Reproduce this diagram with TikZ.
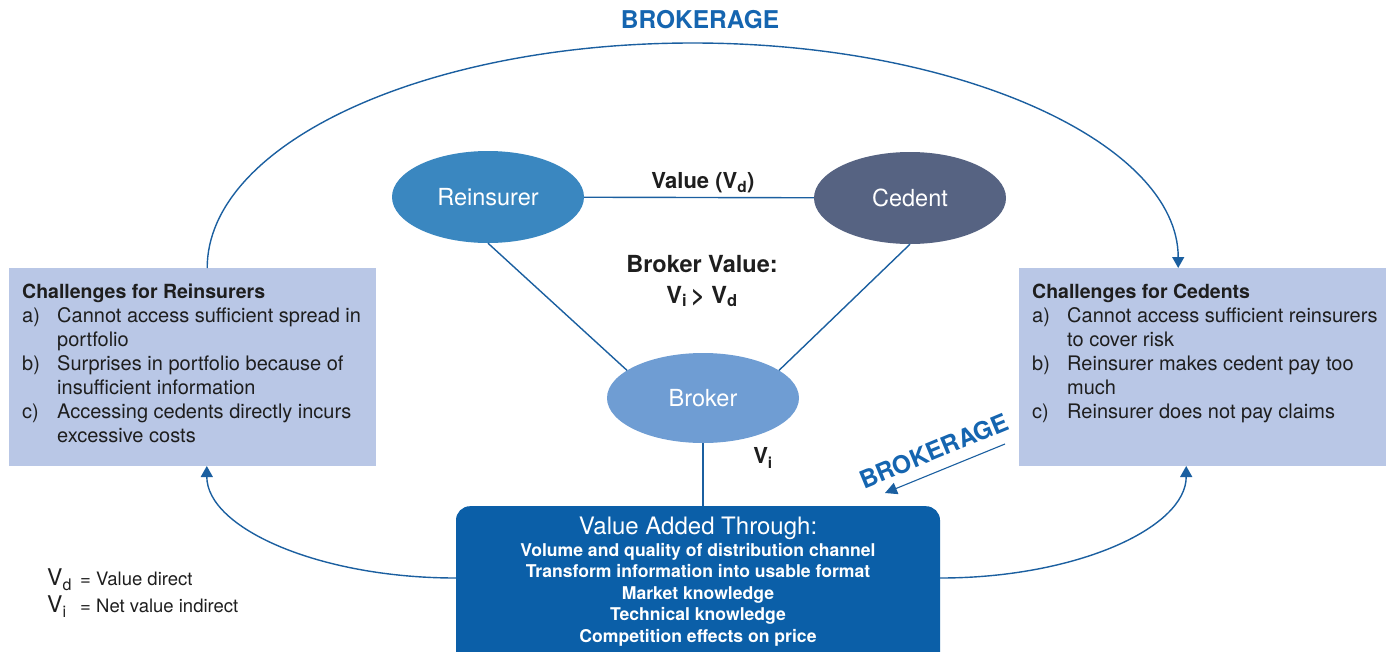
\documentclass[tikz,border=0pt]{standalone}
\usepackage{fontspec}
\setmainfont{TeX Gyre Heros}
\usetikzlibrary{arrows.meta,calc,shapes.geometric}
\definecolor{linkblue}{RGB}{27,95,160}
\definecolor{brkblue}{RGB}{21,101,176}
\definecolor{boxfill}{RGB}{185,199,230}
\definecolor{vboxfill}{RGB}{11,95,168}
\definecolor{reins}{RGB}{58,135,192}
\definecolor{cedent}{RGB}{86,99,130}
\definecolor{broker}{RGB}{111,157,211}
\definecolor{txt}{RGB}{30,30,30}
\begin{document}
\begin{tikzpicture}[x=1pt,y=-1pt,
  conn/.style={draw=linkblue,line width=1.4pt},
  arr/.style={conn,-{Triangle[length=11pt,width=12pt]}},
  oval/.style={ellipse,minimum width=192pt,minimum height=92pt,inner sep=0pt,text=white,font=\fontsize{23.5}{25}\selectfont},
  chbox/.style={fill=boxfill,anchor=north west,inner xsep=13pt,inner ysep=16pt,text=txt},
  lbl/.style={text=txt,font=\bfseries\fontsize{22}{24}\selectfont},
  brk/.style={text=brkblue,font=\bfseries\fontsize{24.5}{26}\selectfont},
  legend/.style={text=txt,font=\fontsize{18.5}{20}\selectfont,anchor=base west,inner sep=0pt}]
\useasboundingbox (0,0) rectangle (1389,651);

% ovals
\node[oval,fill=reins] (re) at (488,197) {Reinsurer};
\node[oval,fill=cedent] (ce) at (910,198) {Cedent};
\node[oval,fill=broker,minimum height=90pt] (br) at (703,398) {Broker};

% challenge boxes
\node[chbox] (lb) at (9,268) {\parbox[c][166pt][t]{341pt}{\raggedright\fontsize{20}{24}\selectfont
{\bfseries\fontsize{19.5}{24}\selectfont Challenges for Reinsurers}\\
\mbox{\makebox[35pt][l]{a)}Cannot access sufficient spread in}\\
\hspace*{35pt}portfolio\\
\mbox{\makebox[35pt][l]{b)}Surprises in portfolio because of}\\
\hspace*{35pt}insufficient information\\
\mbox{\makebox[35pt][l]{c)}Accessing cedents directly incurs}\\
\hspace*{35pt}excessive costs}};
\node[chbox] (rb) at (1019,268) {\parbox[c][166pt][t]{341pt}{\raggedright\fontsize{20}{24}\selectfont
{\bfseries\fontsize{19.5}{24}\selectfont Challenges for Cedents}\\
\mbox{\makebox[35pt][l]{a)}Cannot access sufficient reinsurers}\\
\hspace*{35pt}to cover risk\\
\mbox{\makebox[35pt][l]{b)}Reinsurer makes cedent pay too}\\
\hspace*{35pt}much\\
\mbox{\makebox[35pt][l]{c)}Reinsurer does not pay claims}}};

% value added box
\node[fill=vboxfill,rounded corners=14pt,anchor=north,minimum width=484pt,inner xsep=7pt,inner ysep=11pt,text=white] (vb) at (698,506)
 {\parbox[c][150pt][t]{470pt}{\centering
 {\fontsize{24}{23}\selectfont Value Added Through:\par}
 {\bfseries\fontsize{17.6}{21.5}\selectfont Volume and quality of distribution channel\\
 Transform information into usable format\\
 Market knowledge\\
 Technical knowledge\\
 Competition effects on price\par}}};

% triangle connectors
\draw[conn] (re) -- (ce);
\draw[conn] (re.south) -- (br.160);
\draw[conn] (ce.south) -- (br.20);
\draw[conn] (br.south) -- (br.south |- vb.north);

% labels
\node[lbl] (vd) at (703,183) {Value (V\textsubscript{d})};
\node[lbl,align=center,font=\bfseries\fontsize{23.5}{31}\selectfont] (bv) at (702,281) {Broker Value:\\V\textsubscript{i}\,> V\textsubscript{d}};
\node[lbl] (vi) at (763,458) {V\textsubscript{i}};

% brokerage arcs
\node[brk] (bk1) at (700,20) {BROKERAGE};
\draw[arr] ($(lb.north)+(14.5,0)$) arc[start angle=180,end angle=360,x radius=485.5,y radius=225];
\draw[arr] ($(vb.north west)+(0,72)$) arc[start angle=90,end angle=180,x radius=249,y radius=112];
\draw[arr] ($(vb.north east)+(0,72)$) arc[start angle=90,end angle=0,x radius=246,y radius=112];

% rotated brokerage
\node[brk,rotate=22.5] (bk2) at (934,451) {BROKERAGE};
\coordinate (a1) at (1005,444);
\coordinate (a2) at (885,493);
\draw[conn,line width=1.1pt,-{Triangle[length=12pt,width=12pt]}] (a1) -- (a2);

% legend
\node[legend,font=\fontsize{23}{24}\selectfont] (l1) at (47,585) {V\raisebox{-5pt}{\fontsize{16}{16}\selectfont d}};
\node[legend] (l1t) at (80,585) {= Value direct};
\node[legend,font=\fontsize{23}{24}\selectfont] (l2) at (47,612) {V\raisebox{-5pt}{\fontsize{16}{16}\selectfont i}};
\node[legend] (l2t) at (80,612) {= Net value indirect};
\end{tikzpicture}
\end{document}
